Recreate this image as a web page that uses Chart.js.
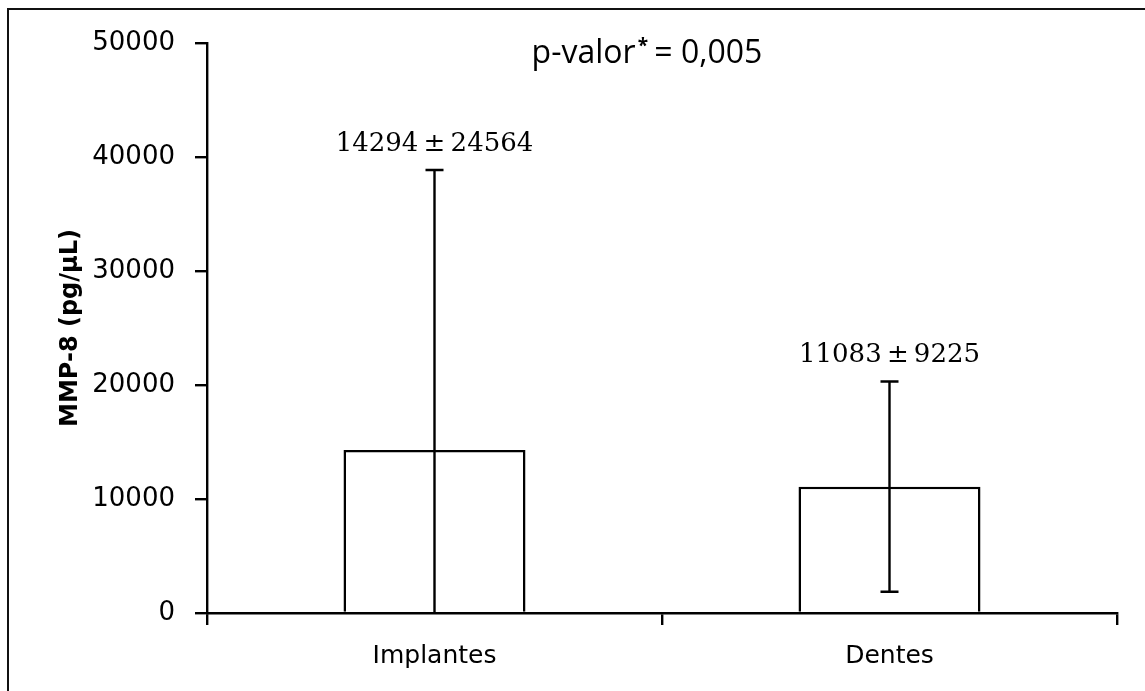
<!DOCTYPE html>
<html>
<head>
<meta charset="utf-8">
<script src="https://cdn.jsdelivr.net/npm/chart.js@4.4.1/dist/chart.umd.min.js"></script>
<style>
  html, body { margin: 0; padding: 0; background: #fff; }
  #wrap { width: 1145px; height: 691px; }
</style>
</head>
<body>
<div id="wrap"><canvas id="grafico" width="1145" height="691"></canvas></div>
<script>
const categorias = ['Implantes', 'Dentes'];
const medias = [14294, 11083];
const desvios = [24564, 9225];
const yMin = 0;
const yMax = 50000;
const yPasso = 10000;
const tituloY = 'MMP-8 (pg/µL)';
const pValor = '0,005';

// moldura externa (so aparecem o lado de cima e o da esquerda)
const moldura = {
  id: 'moldura',
  afterDraw(chart) {
    const c = chart.ctx;
    c.save();
    c.strokeStyle = '#111';
    c.lineWidth = 2;
    c.beginPath();
    c.moveTo(8, chart.height);
    c.lineTo(8, 9);
    c.lineTo(chart.width, 9);
    c.stroke();
    c.restore();
  }
};

// barras de erro (media +/- desvio) e rotulos em cima
const barrasErro = {
  id: 'barrasErro',
  afterDatasetsDraw(chart) {
    const c = chart.ctx;
    const x = chart.scales.x;
    const y = chart.scales.y;
    c.save();
    c.strokeStyle = '#000';
    c.lineWidth = 2.4;
    medias.forEach((m, i) => {
      const px = x.getPixelForValue(i);
      const alto = m + desvios[i];
      const baixo = Math.max(yMin, m - desvios[i]);
      const yTop = y.getPixelForValue(alto);
      const yBot = y.getPixelForValue(baixo);
      c.beginPath();
      c.moveTo(px, yTop);
      c.lineTo(px, yBot);
      c.moveTo(px - 9, yTop);
      c.lineTo(px + 9, yTop);
      if (m - desvios[i] > yMin) {
        c.moveTo(px - 9, yBot);
        c.lineTo(px + 9, yBot);
      }
      c.stroke();

      c.fillStyle = '#000';
      c.font = '26px "DejaVu Serif"';
      c.textAlign = 'center';
      c.textBaseline = 'middle';
      c.fillText(m + '\u2009±\u2009' + desvios[i], px, yTop - 26);
    });

    // p-valor no topo
    c.textBaseline = 'alphabetic';
    c.textAlign = 'left';
    const fonteP = '32px "Open Sans"';
    const fonteAst = 'bold 19px "Open Sans"';
    const a = 'p-valor';
    const b = ' = ' + pValor;
    c.font = fonteP;
    const wa = c.measureText(a).width;
    const wb = c.measureText(b).width;
    c.font = fonteAst;
    const ws = c.measureText('*').width;
    const total = wa + ws + wb;
    const sx = 647 - total / 2;
    const base = 63;
    c.font = fonteP;
    c.fillText(a, sx, base);
    c.font = fonteAst;
    c.fillText('*', sx + wa + 2, base - 11);
    c.font = fonteP;
    c.fillText(b, sx + wa + ws, base);
    c.restore();
  }
};

const ctx = document.getElementById('grafico').getContext('2d');
const grafico = new Chart(ctx, {
  type: 'bar',
  data: {
    labels: categorias,
    datasets: [{
      data: medias,
      backgroundColor: '#fff',
      borderColor: '#000',
      borderWidth: 2.5,
      borderSkipped: 'bottom',
      categoryPercentage: 1,
      barPercentage: 0.4
    }]
  },
  options: {
    responsive: false,
    animation: false,
    devicePixelRatio: 1,
    layout: { padding: { left: 0, top: 43, right: 28, bottom: 0 } },
    plugins: {
      legend: { display: false },
      tooltip: { enabled: false }
    },
    scales: {
      x: {
        grid: { drawOnChartArea: false, tickLength: 12, color: '#000', lineWidth: 2.4, offset: true },
        border: { color: '#000', width: 2.4 },
        ticks: { color: '#000', font: { family: 'DejaVu Sans', size: 25 }, padding: 16 },
        afterFit(s) { s.height = 78; }
      },
      y: {
        min: yMin,
        max: yMax,
        grid: { drawOnChartArea: false, tickLength: 12, color: '#000', lineWidth: 2.4 },
        border: { color: '#000', width: 2.4 },
        ticks: {
          stepSize: yPasso,
          color: '#000',
          padding: 20,
          font: { family: 'DejaVu Sans', size: 26 },
          callback: v => String(v)
        },
        title: {
          display: true,
          text: tituloY,
          color: '#000',
          font: { family: 'DejaVu Sans', size: 24, weight: 'bold' },
          padding: { top: 56, bottom: 0 }
        },
        afterFit(s) { s.width = 207; }
      }
    }
  },
  plugins: [moldura, barrasErro]
});
</script>
</body>
</html>
